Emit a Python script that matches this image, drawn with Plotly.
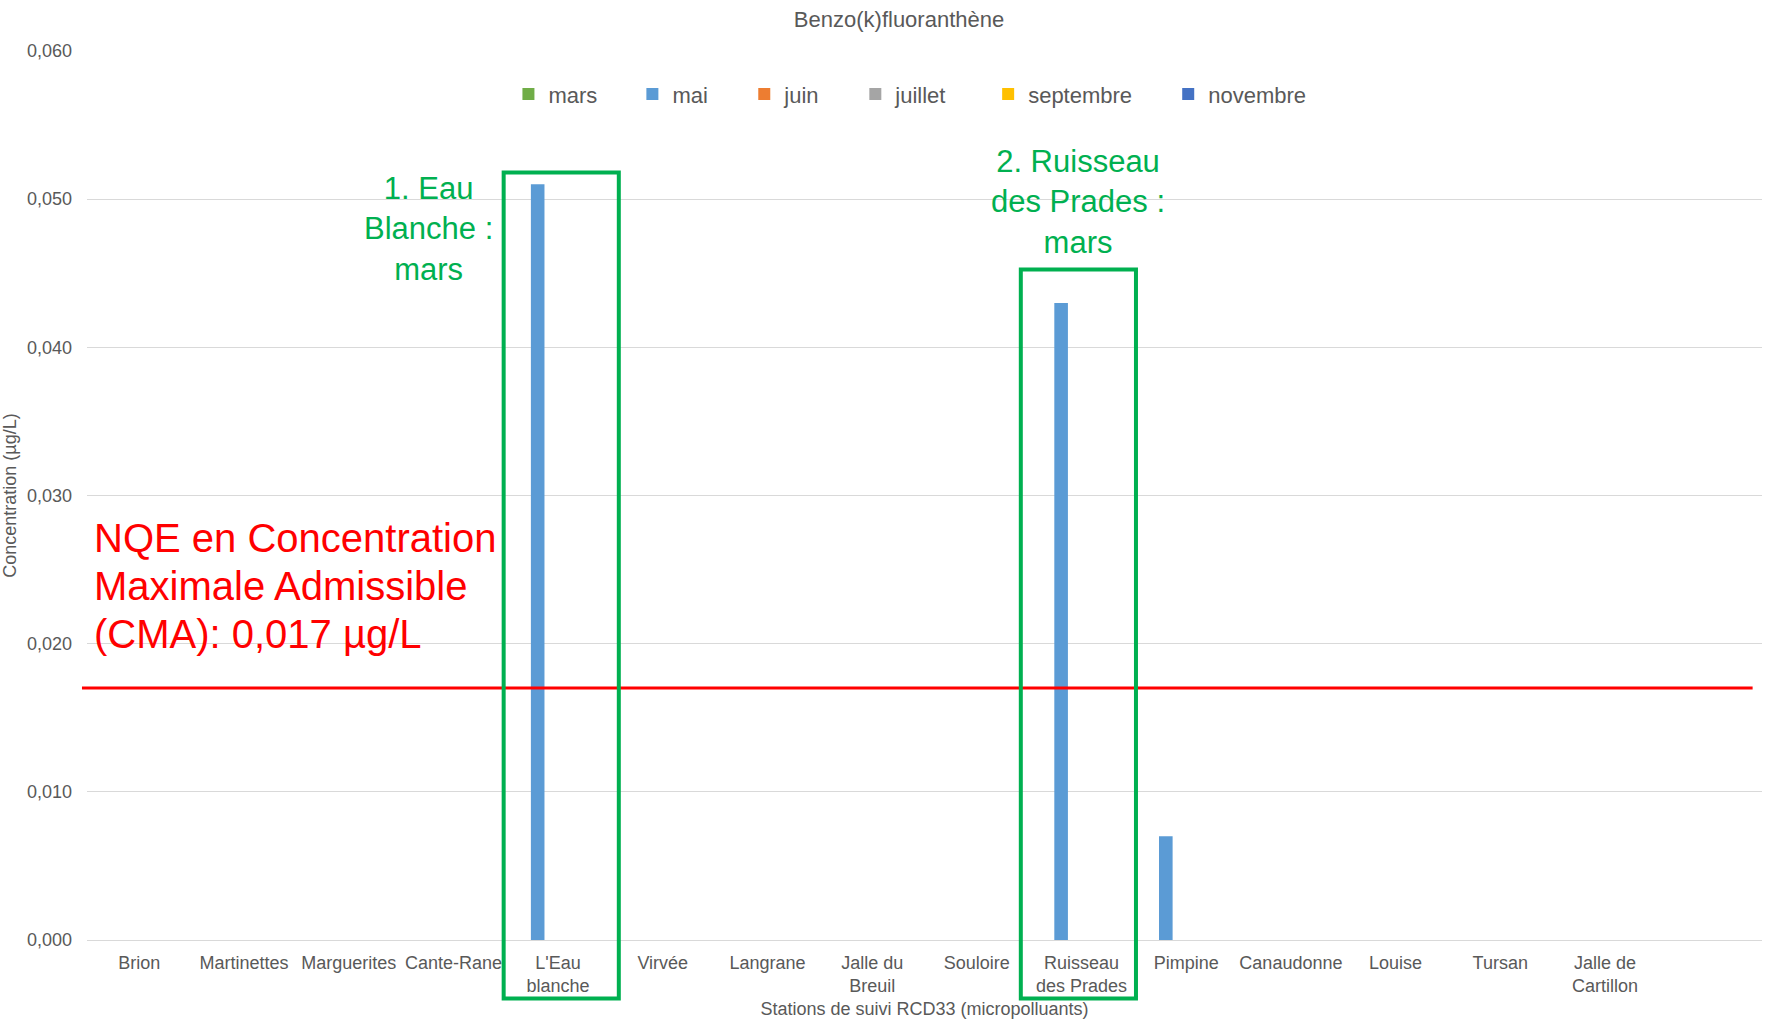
import plotly.graph_objects as go

# Monitoring stations (RCD33 network); the axis keeps one empty slot on the right
stations = [
    "Brion", "Martinettes", "Marguerites", "Cante-Rane", "L'Eau<br>blanche",
    "Virvée", "Langrane", "Jalle du<br>Breuil", "Souloire", "Ruisseau<br>des Prades",
    "Pimpine", "Canaudonne", "Louise", "Tursan", "Jalle de<br>Cartillon",
]

# Benzo(k)fluoranthène concentrations (µg/L) per sampling campaign; None = no quantified value
mars = [None] * 15
mai = [None, None, None, None, 0.051, None, None, None, None, 0.043, 0.007, None, None, None, None]
juin = [None] * 15
juillet = [None] * 15
septembre = [None] * 15
novembre = [None] * 15

campaigns = ["mars", "mai", "juin", "juillet", "septembre", "novembre"]
series = [mars, mai, juin, juillet, septembre, novembre]
colors = ["#70AD47", "#5B9BD5", "#ED7D31", "#A5A5A5", "#FFC000", "#4472C4"]
# left edge (paper fraction) of each legend entry along the top row
legend_x = [0.2516, 0.3256, 0.3924, 0.4587, 0.5380, 0.6455]

# Environmental quality standard, maximum admissible concentration
nqe_cma = 0.017
nqe_lines = ["NQE en Concentration", "Maximale Admissible", "(CMA): 0,017 µg/L"]
nqe_line_y = [0.4525, 0.3980, 0.3447]
y_ticks = [0.0, 0.01, 0.02, 0.03, 0.04, 0.05, 0.06]

# Stations highlighted with a frame and their caption:
# (station, caption, caption x, caption y, frame left, frame right, frame top)
highlights = [
    ("L'Eau<br>blanche", "1. Eau<br>Blanche :<br>mars", 0.2039, 0.7996, -0.52, 0.58, 0.8633),
    ("Ruisseau<br>des Prades", "2. Ruisseau<br>des Prades :<br>mars", 0.5915, 0.8300, -0.58, 0.52, 0.7543),
]

FONT = "Liberation Sans, Arial, sans-serif"
GREY = "#595959"
GRID = "#D9D9D9"
GREEN = "#00B050"
RED = "#FF0000"

fig = go.Figure()
legend_layout = {}
for k, (name, vals, col, lx) in enumerate(zip(campaigns, series, colors, legend_x)):
    lname = "legend" if k == 0 else f"legend{k + 1}"
    fig.add_trace(go.Bar(x=stations, y=vals, name=name, legend=lname,
                         marker=dict(color=col, line=dict(width=0))))
    legend_layout[lname] = dict(
        orientation="h", x=lx, xanchor="left", y=0.9513, yanchor="middle",
        font=dict(family=FONT, size=22, color=GREY), bgcolor="rgba(0,0,0,0)",
        borderwidth=0,
    )

# NQE-CMA threshold line and its caption
fig.add_shape(type="line", xref="paper", yref="y", x0=-0.003, x1=0.9944,
              y0=nqe_cma, y1=nqe_cma, line=dict(color=RED, width=3), layer="above")
for line_text, ly in zip(nqe_lines, nqe_line_y):
    fig.add_annotation(xref="paper", yref="paper", x=0.0029, y=ly, xanchor="left", yanchor="middle",
                       align="left", showarrow=False, text=line_text,
                       font=dict(family=FONT, size=40, color=RED))

for station, caption, cx, cy, left, right, top in highlights:
    i = stations.index(station)
    fig.add_shape(type="rect", xref="x", yref="paper", x0=i + left, x1=i + right,
                  y0=-0.0659, y1=top, line=dict(color=GREEN, width=4), layer="above")
    fig.add_annotation(xref="paper", yref="paper", x=cx, y=cy, xanchor="center", yanchor="middle",
                       align="center", showarrow=False, text=caption,
                       font=dict(family=FONT, size=31, color=GREEN))

fig.update_layout(
    width=1768, height=1023,
    margin=dict(l=87, r=6, t=51, b=83),
    paper_bgcolor="white", plot_bgcolor="white",
    separators=", ",
    barmode="group", bargap=0.22, bargroupgap=0,
    font=dict(family=FONT, color=GREY, size=18),
    title=dict(text="Benzo(k)fluoranthène", x=0.5085, xanchor="center", xref="container",
               y=0.9814, yanchor="middle", yref="container",
               font=dict(family=FONT, size=22, color=GREY)),
    showlegend=True,
    **legend_layout,
)

fig.update_xaxes(
    type="category", categoryorder="array", categoryarray=stations,
    range=[-0.5, 15.5], showgrid=False, showline=True, linecolor=GRID, linewidth=1,
    ticks="", tickfont=dict(family=FONT, size=18, color=GREY), ticklabelstandoff=6,
    title=dict(text="Stations de suivi RCD33 (micropolluants)", standoff=7,
               font=dict(family=FONT, size=18, color=GREY)),
)
fig.update_yaxes(
    range=[0, 0.06], tickvals=y_ticks, tickformat=".3f", showgrid=True, gridcolor=GRID,
    gridwidth=1, zeroline=False, showline=False, ticks="",
    tickfont=dict(family=FONT, size=18, color=GREY), ticklabelstandoff=14,
    title=dict(text="Concentration (µg/L)", standoff=5,
               font=dict(family=FONT, size=18, color=GREY)),
)

fig.write_html("out.html")
